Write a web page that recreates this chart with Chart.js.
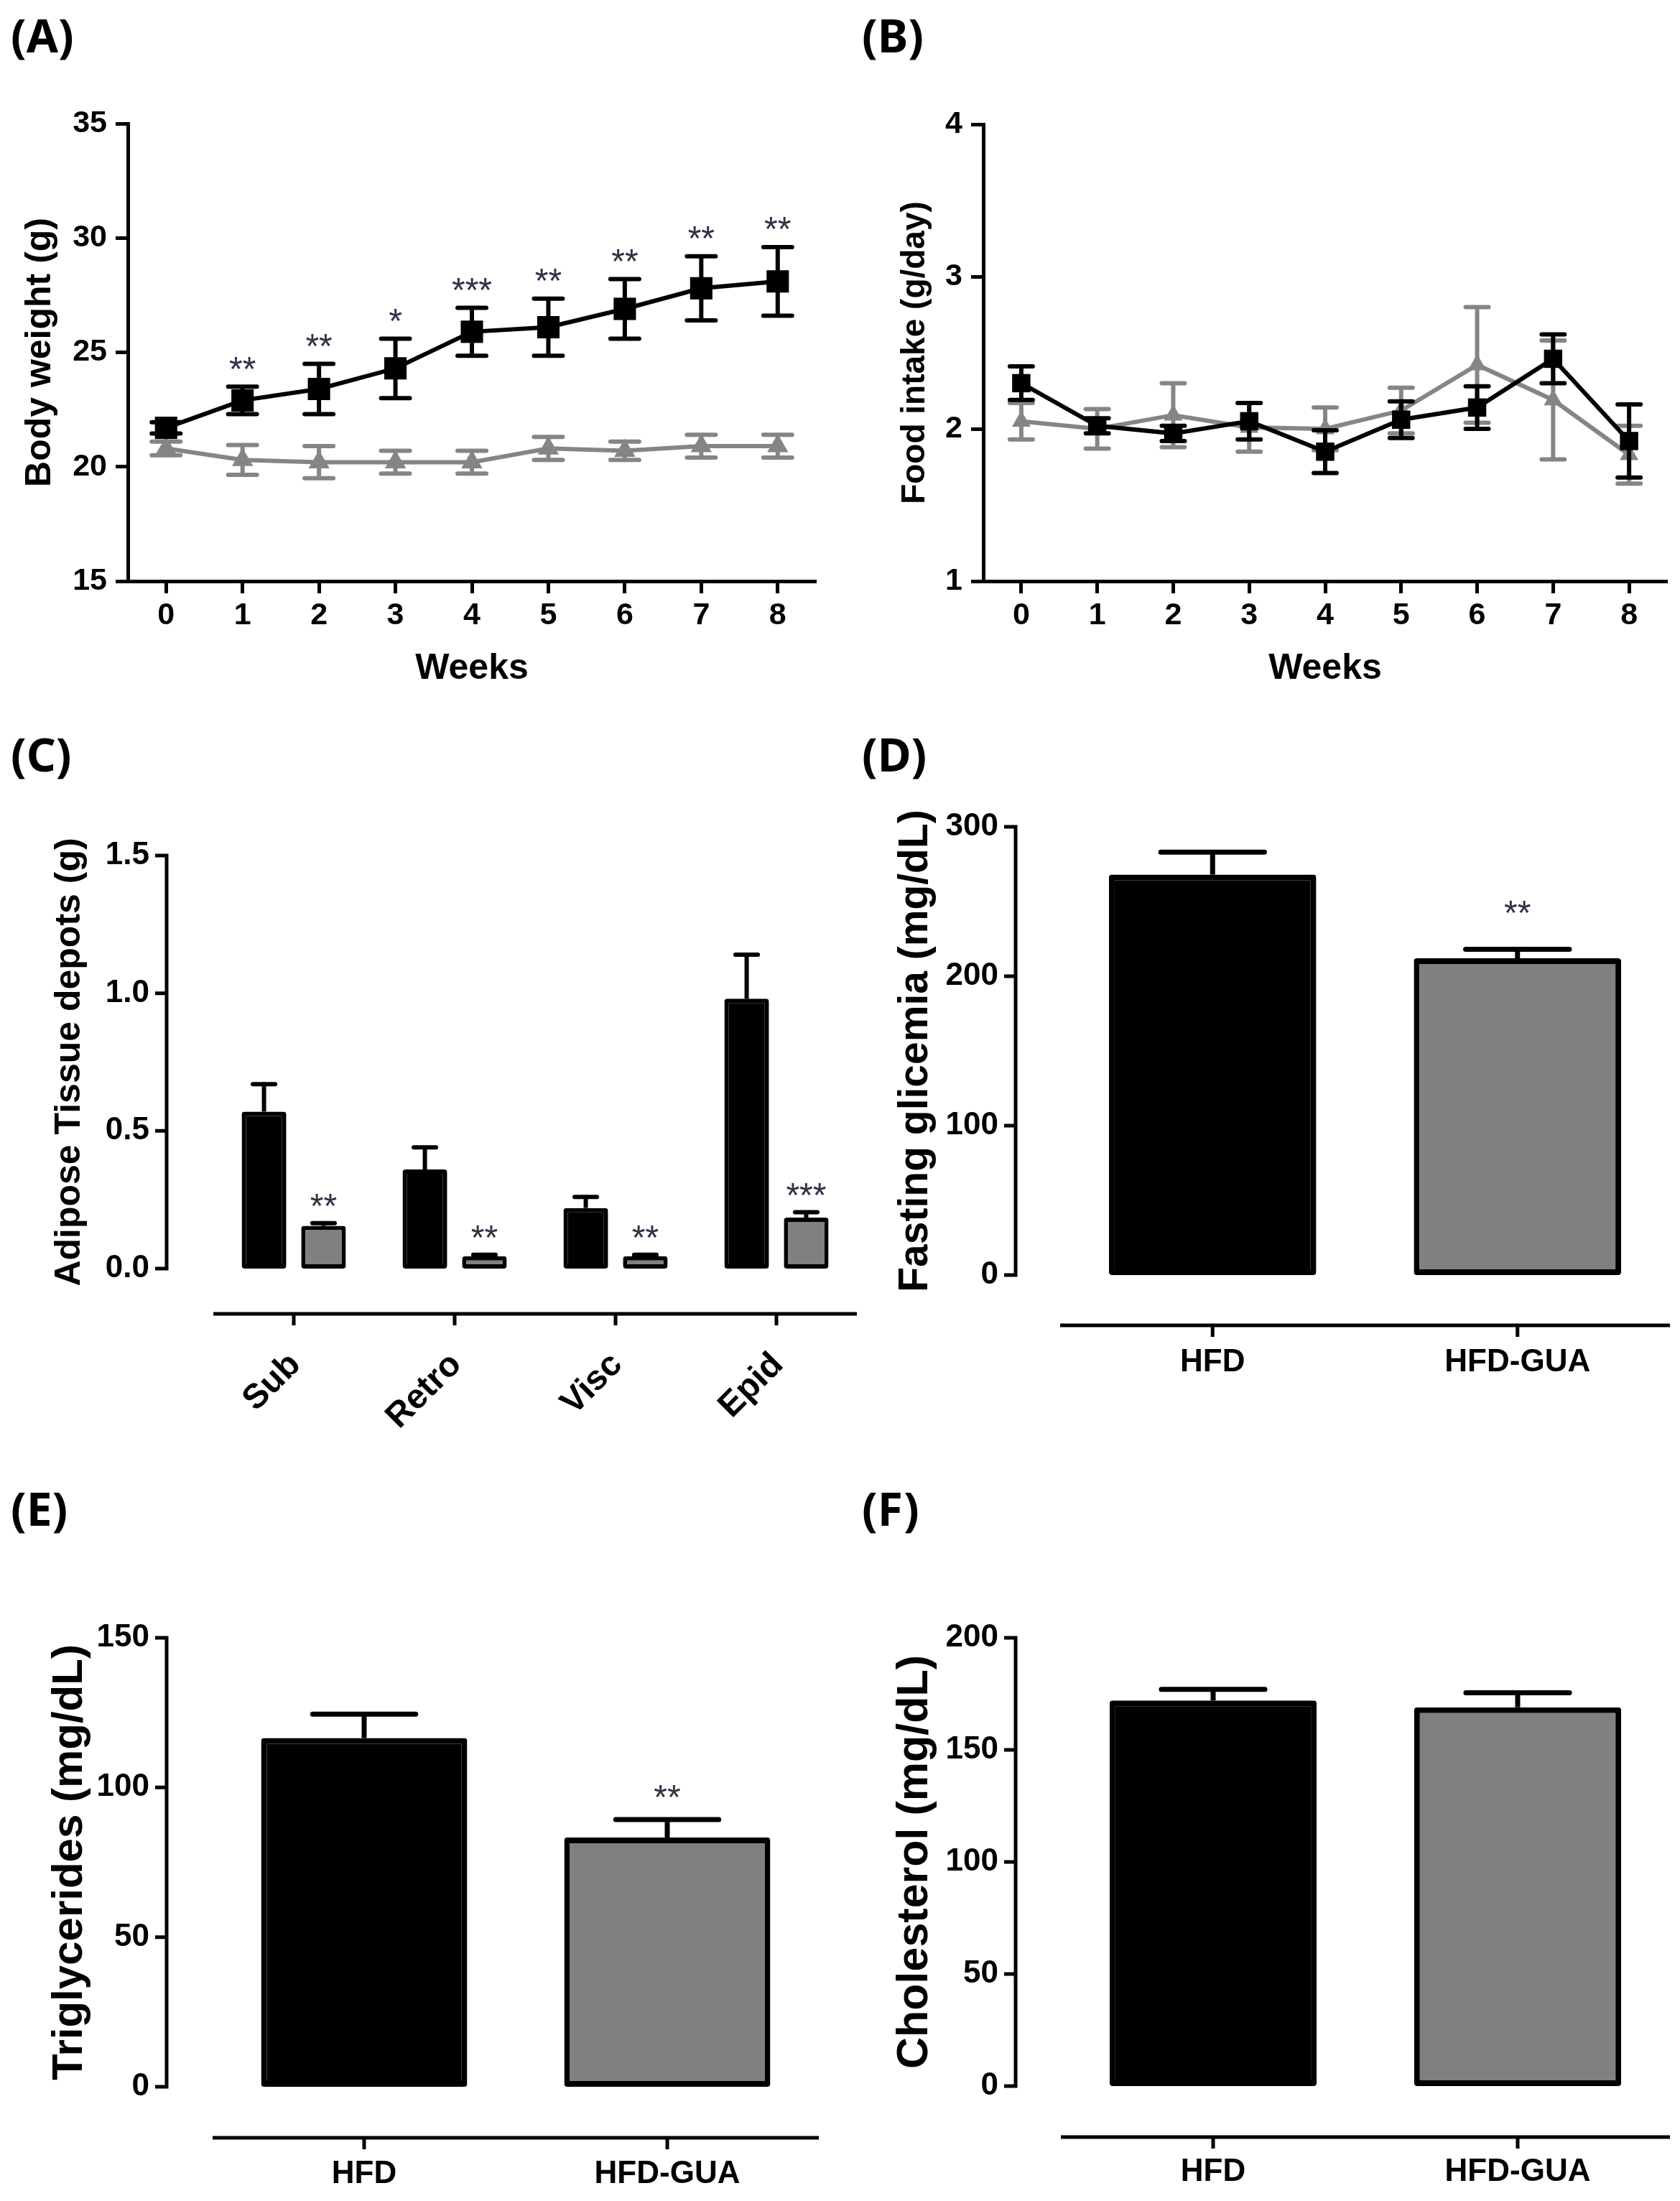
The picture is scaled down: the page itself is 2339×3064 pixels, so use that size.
<!DOCTYPE html>
<html>
<head>
<meta charset="utf-8">
<title>HFD vs HFD-GUA</title>
<script src="https://cdn.jsdelivr.net/npm/chart.js@4.4.1/dist/chart.umd.min.js"></script>
<style>
  html, body { margin: 0; padding: 0; background: #fff; }
  body { position: relative; width: 2339px; height: 3064px; overflow: hidden; }
  canvas { position: absolute; }
  .panel { position: absolute; font: bold 64px 'Noto Sans', 'DejaVu Sans', sans-serif; line-height: 1; color: #000; }
</style>
</head>
<body>
<div class="panel" style="left:15px;top:17px">(A)</div>
<div class="panel" style="left:1200px;top:17px">(B)</div>
<div class="panel" style="left:15px;top:1018px">(C)</div>
<div class="panel" style="left:1200px;top:1018px">(D)</div>
<div class="panel" style="left:15px;top:2068px">(E)</div>
<div class="panel" style="left:1200px;top:2068px">(F)</div>

<canvas id="chartA"></canvas>
<canvas id="chartB"></canvas>
<canvas id="chartC"></canvas>
<canvas id="chartD"></canvas>
<canvas id="chartE"></canvas>
<canvas id="chartF"></canvas>

<script>
// ---- dados ----
const weeks = ['0', '1', '2', '3', '4', '5', '6', '7', '8'];

// (A) peso corporal (g)
const bwHFD    = [21.7, 22.9, 23.4, 24.3, 25.9, 26.1, 26.9, 27.8, 28.1];
const bwHFDerr = [0.25, 0.6, 1.1, 1.3, 1.05, 1.25, 1.3, 1.4, 1.5];
const bwGUA    = [20.8, 20.3, 20.2, 20.2, 20.2, 20.8, 20.7, 20.9, 20.9];
const bwGUAerr = [0.3, 0.65, 0.7, 0.5, 0.5, 0.5, 0.4, 0.5, 0.5];
const bwStars  = ['', '**', '**', '*', '***', '**', '**', '**', '**'];

// (B) consumo alimentar (g/dia)
const fiHFD    = [2.30, 2.02, 1.97, 2.05, 1.85, 2.06, 2.14, 2.46, 1.92];
const fiHFDerr = [0.11, 0.05, 0.05, 0.12, 0.14, 0.12, 0.14, 0.16, 0.24];
const fiGUA    = [2.05, 2.00, 2.09, 2.01, 2.00, 2.12, 2.42, 2.19, 1.83];
const fiGUAerr = [0.12, 0.13, 0.21, 0.16, 0.14, 0.15, 0.38, 0.39, 0.19];

// (C) depositos de tecido adiposo (g)
const depots    = ['Sub', 'Retro', 'Visc', 'Epid'];
const depHFD    = [0.57, 0.36, 0.22, 0.98];
const depHFDerr = [0.10, 0.08, 0.04, 0.16];
const depGUA    = [0.155, 0.045, 0.045, 0.185];
const depGUAerr = [0.01, 0.005, 0.005, 0.02];
const depStars  = ['**', '**', '**', '***'];

// (D), (E), (F)
const groups   = ['HFD', 'HFD-GUA'];
const glyMean  = [268, 212];
const glyErr   = [15, 6];
const glyStars = ['', '**'];
const tgMean   = [116.5, 83.3];
const tgErr    = [8, 6];
const tgStars  = ['', '**'];
const cholMean = [172, 169];
const cholErr  = [5, 6.5];

// ---- estilo ----
const FONT = "'Liberation Sans', Arial, Helvetica, sans-serif";
const BLACK = '#000000';
const GRAY = '#858585';
const BAR_GRAY = '#808080';
const STAR = '#2d3343';

Chart.defaults.font.family = FONT;
Chart.defaults.color = BLACK;
Chart.defaults.animation = false;
Chart.defaults.plugins.legend.display = false;
Chart.defaults.plugins.tooltip.enabled = false;

// posiciona o canvas na pagina
function place(id, box) {
  const c = document.getElementById(id);
  c.width = box.w; c.height = box.h;
  c.style.left = box.x + 'px'; c.style.top = box.y + 'px';
  c.style.width = box.w + 'px'; c.style.height = box.h + 'px';
  return c;
}

function pad(box, area) {
  return { top: area.top - box.y, right: box.x + box.w - area.right, bottom: 0, left: 0 };
}

// barras de erro (media +- EPM)
function errorBars(capW, lw, upOnly) {
  return {
    id: 'errorBars',
    afterDatasetDraw(chart, args) {
      const ds = chart.data.datasets[args.index];
      if (!ds.errors) return;
      const y = chart.scales.y, ctx = chart.ctx;
      ctx.save();
      ctx.strokeStyle = ds.errColor || ds.borderColor;
      ctx.lineWidth = lw;
      args.meta.data.forEach((el, i) => {
        const v = ds.data[i], e = ds.errors[i];
        const top = y.getPixelForValue(v + e);
        const bot = upOnly ? el.y : y.getPixelForValue(v - e);
        const cw = capW < 1 ? el.width * capW : capW;
        ctx.lineCap = 'butt';
        ctx.beginPath();
        ctx.moveTo(el.x, top); ctx.lineTo(el.x, bot);
        ctx.stroke();
        ctx.lineCap = 'round';
        ctx.beginPath();
        ctx.moveTo(el.x - cw / 2, top); ctx.lineTo(el.x + cw / 2, top);
        if (!upOnly) { ctx.moveTo(el.x - cw / 2, bot); ctx.lineTo(el.x + cw / 2, bot); }
        ctx.stroke();
      });
      ctx.restore();
    }
  };
}

// asteriscos de significancia
function starMarks(gap, size) {
  return {
    id: 'starMarks',
    afterDatasetsDraw(chart) {
      const ctx = chart.ctx, y = chart.scales.y;
      chart.data.datasets.forEach((ds, di) => {
        if (!ds.stars) return;
        const meta = chart.getDatasetMeta(di);
        ctx.save();
        ctx.fillStyle = STAR;
        ctx.font = size + 'px ' + FONT;
        ctx.textAlign = 'center';
        ctx.textBaseline = 'alphabetic';
        ds.stars.forEach((s, i) => {
          if (!s) return;
          const cy = y.getPixelForValue(ds.data[i] + (ds.errors ? ds.errors[i] : 0)) - gap;
          ctx.fillText(s, meta.data[i].x, cy + 0.59 * size);
        });
        ctx.restore();
      });
    }
  };
}

// eixos separados (estilo Prism) para os graficos de barras
function detachedAxes(yGap, xGap, tickLen, lw) {
  return {
    id: 'detachedAxes',
    afterDraw(chart) {
      const { ctx, chartArea: a } = chart;
      const x = chart.scales.x, y = chart.scales.y;
      ctx.save();
      ctx.strokeStyle = BLACK;
      ctx.lineWidth = lw;
      ctx.beginPath();
      const yx = a.left - yGap;
      ctx.moveTo(yx, y.getPixelForValue(y.max) - lw / 2);
      ctx.lineTo(yx, y.getPixelForValue(y.min) + lw / 2);
      y.ticks.forEach(t => {
        const py = y.getPixelForValue(t.value);
        ctx.moveTo(yx, py); ctx.lineTo(yx - tickLen, py);
      });
      const xy = a.bottom + xGap;
      ctx.moveTo(a.left, xy); ctx.lineTo(a.right, xy);
      x.ticks.forEach((t, i) => {
        const px = x.getPixelForTick(i);
        ctx.moveTo(px, xy); ctx.lineTo(px, xy + tickLen);
      });
      ctx.stroke();
      ctx.restore();
    }
  };
}

function lineChart(id, box, area, o) {
  return new Chart(place(id, box), {
    type: 'line',
    data: {
      labels: weeks,
      datasets: [
        { data: o.hfd, errors: o.hfdErr, stars: o.stars, borderColor: BLACK, backgroundColor: BLACK,
          borderWidth: 6, pointStyle: 'rect', pointRadius: o.sq, pointBorderWidth: 0 },
        { data: o.gua, errors: o.guaErr, borderColor: GRAY, backgroundColor: GRAY,
          borderWidth: 6, pointStyle: 'triangle', pointRadius: o.tri, pointBorderWidth: 0 }
      ]
    },
    options: {
      responsive: false,
      devicePixelRatio: 1,
      layout: { autoPadding: false, padding: pad(box, area) },
      scales: {
        x: {
          type: 'category', offset: true,
          border: { color: BLACK, width: 5 },
          grid: { drawOnChartArea: false, offset: false, tickLength: 17, tickWidth: 5, tickColor: BLACK },
          ticks: { font: { size: 43, weight: 'bold' }, padding: 5, maxRotation: 0, autoSkip: false },
          title: { display: true, text: 'Weeks', font: { size: 50, weight: 'bold' }, padding: { top: 0, bottom: 39 } },
          afterFit: s => { s.height = box.y + box.h - area.bottom; }
        },
        y: {
          min: o.min, max: o.max,
          border: { color: BLACK, width: 5 },
          grid: { drawOnChartArea: false, tickLength: 17, tickWidth: 5, tickColor: BLACK },
          ticks: { stepSize: o.step, font: { size: 43, weight: 'bold' }, padding: 12 },
          title: { display: true, text: o.title, font: { size: o.titleSize, weight: 'bold' }, padding: { top: o.titlePad, bottom: 0 } },
          afterFit: s => { s.width = area.left - box.x; }
        }
      }
    },
    plugins: [errorBars(o.cap, 6, false), starMarks(37, 48)]
  });
}

function barChart(id, box, area, o) {
  const yGap = area.left - o.axisX, xGap = o.lineY - area.bottom;
  const yTicks = { stepSize: o.step, font: { size: 44, weight: 'bold' }, padding: yGap + 16 + 8 };
  if (o.fmt) yTicks.callback = o.fmt;
  return new Chart(place(id, box), {
    type: 'bar',
    data: { labels: o.labels, datasets: o.datasets },
    options: {
      responsive: false,
      devicePixelRatio: 1,
      layout: { autoPadding: false, padding: pad(box, area) },
      scales: {
        x: {
          border: { display: false },
          grid: { display: false, drawTicks: false },
          ticks: { autoSkip: false, font: { size: o.xSize || 44, weight: 'bold' }, padding: o.xPad,
                   minRotation: o.rot || 0, maxRotation: o.rot || 0, labelOffset: o.labelOffset || 0 },
          afterFit: s => { s.height = box.y + box.h - area.bottom; }
        },
        y: {
          min: 0, max: o.max,
          border: { display: false },
          grid: { display: false, drawTicks: false },
          ticks: yTicks,
          title: { display: true, text: o.title, font: { size: o.titleSize, weight: 'bold' }, padding: { top: o.titlePad, bottom: 0 } },
          afterFit: s => { s.width = area.left - box.x; }
        }
      }
    },
    plugins: [detachedAxes(yGap, xGap, 16, 5), errorBars(0.5, o.errW, true), starMarks(o.starGap, 48)]
  });
}

function twoBars(mean, err, stars) {
  return [{
    data: mean, errors: err, stars: stars,
    backgroundColor: [BLACK, BAR_GRAY], borderColor: BLACK, errColor: BLACK,
    borderWidth: 8, borderSkipped: false, borderRadius: 4,
    categoryPercentage: 1, barPercentage: 0.68
  }];
}

// (A)
lineChart('chartA', { x: 0, y: 100, w: 1170, h: 900 }, { left: 178, right: 1136, top: 172, bottom: 809 }, {
  hfd: bwHFD, hfdErr: bwHFDerr, gua: bwGUA, guaErr: bwGUAerr, stars: bwStars,
  min: 15, max: 35, step: 5, title: 'Body weight (g)', titleSize: 50, titlePad: 26,
  sq: 22, tri: 17, cap: 40
});

// (B)
lineChart('chartB', { x: 1170, y: 100, w: 1169, h: 900 }, { left: 1369, right: 2321, top: 173, bottom: 809 }, {
  hfd: fiHFD, hfdErr: fiHFDerr, gua: fiGUA, guaErr: fiGUAerr, stars: null,
  min: 1, max: 4, step: 1, title: 'Food intake (g/day)', titleSize: 46, titlePad: 77,
  sq: 18, tri: 15, cap: 32
});

// (C)
barChart('chartC', { x: 0, y: 1030, w: 1250, h: 970 }, { left: 297, right: 1193, top: 1191, bottom: 1766 }, {
  labels: depots,
  datasets: [
    { data: depHFD, errors: depHFDerr, backgroundColor: BLACK, borderColor: BLACK, errColor: BLACK,
      borderWidth: 6, borderSkipped: false, borderRadius: 4, categoryPercentage: 0.74, barPercentage: 0.75 },
    { data: depGUA, errors: depGUAerr, stars: depStars, backgroundColor: BAR_GRAY, borderColor: BLACK, errColor: BLACK,
      borderWidth: 6, borderSkipped: false, borderRadius: 4, categoryPercentage: 0.74, barPercentage: 0.75 }
  ],
  max: 1.5, step: 0.5, fmt: v => v.toFixed(1),
  title: 'Adipose Tissue depots (g)', titleSize: 50, titlePad: 67,
  axisX: 232, lineY: 1829, xPad: 106, xSize: 48, rot: 45, labelOffset: 2, errW: 6, starGap: 36
});

// (D)
barChart('chartD', { x: 1210, y: 1030, w: 1129, h: 970 }, { left: 1476, right: 2325, top: 1151, bottom: 1775 }, {
  labels: groups, datasets: twoBars(glyMean, glyErr, glyStars),
  max: 300, step: 100, title: 'Fasting glicemia (mg/dL)', titleSize: 57, titlePad: 31,
  axisX: 1414, lineY: 1845, xPad: 95, errW: 7, starGap: 63
});

// (E)
barChart('chartE', { x: 0, y: 2150, w: 1205, h: 914 }, { left: 296, right: 1140, top: 2280, bottom: 2905 }, {
  labels: groups, datasets: twoBars(tgMean, tgErr, tgStars),
  max: 150, step: 50, title: 'Triglycerides (mg/dL)', titleSize: 60, titlePad: 61,
  axisX: 232, lineY: 2976, xPad: 95, errW: 7, starGap: 43
});

// (F)
barChart('chartF', { x: 1210, y: 2150, w: 1129, h: 914 }, { left: 1477, right: 2325, top: 2280, bottom: 2904 }, {
  labels: groups, datasets: twoBars(cholMean, cholErr, null),
  max: 200, step: 50, title: 'Cholesterol (mg/dL)', titleSize: 61, titlePad: 28,
  axisX: 1414, lineY: 2975, xPad: 93, errW: 7, starGap: 43
});
</script>
</body>
</html>
